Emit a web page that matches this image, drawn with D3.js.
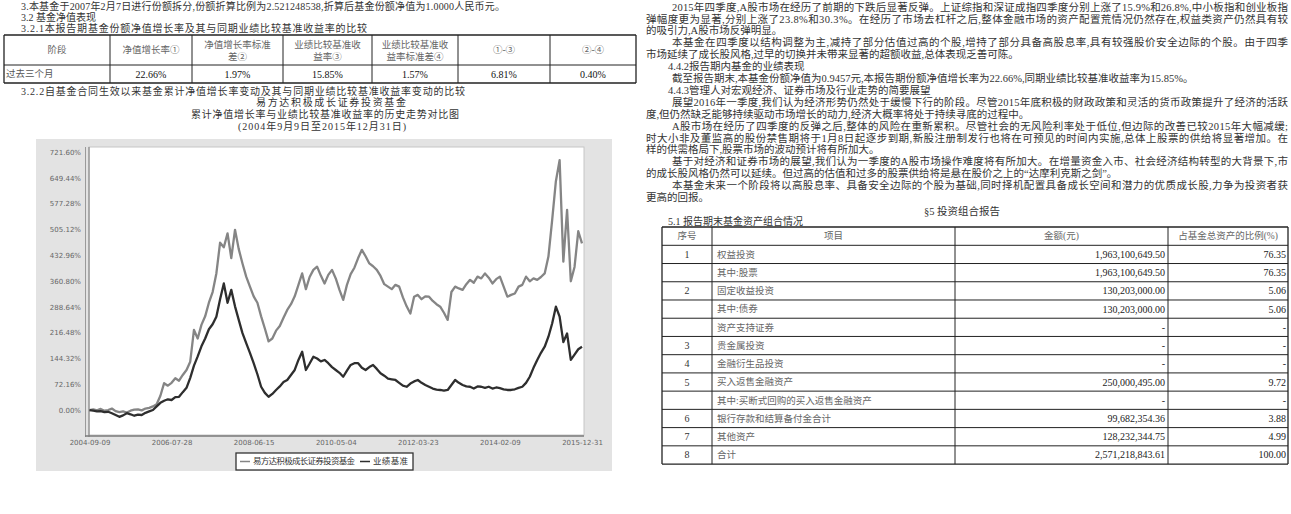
<!DOCTYPE html>
<html>
<head>
<meta charset="utf-8">
<script src="https://cdn.jsdelivr.net/npm/d3@7"></script>
<style>
  body { margin: 0; background: #fff; }
  svg text { font-family: "Liberation Serif", "Noto Sans CJK SC", serif; }
  .axis text { font-family: "DejaVu Sans", sans-serif; }
</style>
</head>
<body>
<div id="page"></div>
<script>
// ---- 图表数据 (monthly readings from the chart) ----
const yTickValues = [0, 72.16, 144.32, 216.48, 288.64, 360.80, 432.96, 505.12, 577.28, 649.44, 721.60];
const yTickLabels = ["0.00%", "72.16%", "144.32%", "216.48%", "288.64%", "360.80%", "432.96%", "505.12%", "577.28%", "649.44%", "721.60%"];
const xTickIndex = [0, 22, 44, 66, 88, 110, 132];
const xTickLabels = ["2004-09-09", "2006-07-28", "2008-06-15", "2010-05-04", "2012-03-23", "2014-02-09", "2015-12-31"];

// 易方达积极成长 累计净值增长率 (%)
const fundValues = [
  0, 2, -1, 3, -2, 0, 4, -3, -6, -4, -7, -2, 1, 2, -1, 4, 6, 10, 16, 40,
  75, 68, 76, 89, 82, 98, 112, 135, 224, 200, 238, 262, 300, 330, 382, 468, 455, 494, 425, 504,
  450, 410, 373, 345, 318, 300, 262, 228, 192, 200, 222, 235, 258, 280, 296, 318, 350, 382, 338, 372,
  392, 401, 376, 354, 378, 392, 368, 336, 308, 350, 380, 398, 425, 448, 430, 410, 402, 392, 375, 352,
  345, 338, 350, 345, 315, 290, 270, 317, 322, 310, 318, 317, 305, 296, 289, 272, 252, 330, 345, 340,
  336, 352, 364, 356, 373, 368, 382, 370, 354, 366, 373, 345, 317, 322, 326, 345, 350, 373, 360, 368,
  364, 372, 382, 429, 531, 640, 699, 415, 560, 360, 400, 500, 466
];
// 业绩基准 收益率 (%)
const benchValues = [
  0, -2, -4, -3, -6, -5, -9, -14, -19, -15, -9, -12, -16, -13, -14, -8, -4, 0, 10, 20,
  26, 30, 28, 36, 37, 50, 62, 90, 124, 150, 178, 200, 226, 240, 261, 310, 354, 300, 336, 290,
  252, 215, 187, 160, 131, 100, 65, 48, 37, 45, 56, 66, 78, 84, 98, 112, 140, 163, 112, 130,
  149, 144, 136, 140, 131, 120, 112, 104, 93, 110, 126, 131, 131, 118, 112, 120, 126, 115, 103, 96,
  88, 86, 84, 76, 68, 65, 74, 80, 84, 76, 70, 65, 60, 57, 56, 54, 56, 70, 84, 76,
  70, 66, 65, 60, 66, 65, 62, 65, 60, 63, 61, 58, 56, 56, 58, 62, 65, 76, 93, 118,
  140, 160, 177, 205, 242, 289, 261, 190, 214, 140, 155, 170, 177
];
const seriesNames = ["易方达积极成长证券投资基金", "业绩基准"];

// 3.2.1 表格
const perfHeader = [["阶段"], ["净值增长率①"], ["净值增长率标准", "差②"], ["业绩比较基准收", "益率③"], ["业绩比较基准收", "益率标准差④"], ["①-③"], ["②-④"]];
const perfRow = ["过去三个月", "22.66%", "1.97%", "15.85%", "1.57%", "6.81%", "0.40%"];

// 5.1 资产组合
const assetHeader = ["序号", "项目", "金额(元)", "占基金总资产的比例(%)"];
const assetNo = ["1", "", "2", "", "", "3", "4", "5", "", "6", "7", "8"];
const assetItems = ["权益投资", "其中:股票", "固定收益投资", "其中:债券", "资产支持证券", "贵金属投资", "金融衍生品投资", "买入返售金融资产", "其中:买断式回购的买入返售金融资产", "银行存款和结算备付金合计", "其他资产", "合计"];
const assetAmounts = ["1,963,100,649.50", "1,963,100,649.50", "130,203,000.00", "130,203,000.00", "-", "-", "-", "250,000,495.00", "-", "99,682,354.36", "128,232,344.75", "2,571,218,843.61"];
const assetRatios = ["76.35", "76.35", "5.06", "5.06", "-", "-", "-", "9.72", "-", "3.88", "4.99", "100.00"];

const svg = d3.select("#page").append("svg")
  .attr("width", 1291)
  .attr("height", 514);

svg.append("rect").attr("width", 1291).attr("height", 514).attr("fill", "#fff");

function addText(x, y, str, o = {}) {
  const t = svg.append("text")
    .attr("x", x)
    .attr("y", y)
    .attr("dy", "0.35em")
    .attr("font-size", o.size || 10)
    .attr("fill", o.fill || "#333")
    .attr("text-anchor", o.anchor || "start")
    .text(str);
  if (o.len) t.attr("textLength", o.len).attr("lengthAdjust", "spacing");
  return t;
}

function hline(x1, x2, y, w) {
  svg.append("line").attr("x1", x1).attr("x2", x2).attr("y1", y).attr("y2", y)
    .attr("stroke", "#222").attr("stroke-width", w || 1);
}
function vline(x, y1, y2, w) {
  svg.append("line").attr("x1", x).attr("x2", x).attr("y1", y1).attr("y2", y2)
    .attr("stroke", "#222").attr("stroke-width", w || 1);
}

// ---------- 左栏文字 ----------
addText(21, 6, "3.本基金于2007年2月7日进行份额拆分,份额折算比例为2.521248538,折算后基金份额净值为1.0000人民币元。", { len: 484 });
addText(21, 17, "3.2  基金净值表现");
addText(21, 28, "3.2.1本报告期基金份额净值增长率及其与同期业绩比较基准收益率的比较", { len: 346 });

// 3.2.1 表格
const pCols = [4, 110, 192, 283, 372, 458, 550, 636];
const pTop = 35, pMid = 65, pBot = 83;
hline(pCols[0], pCols[7], pTop, 1.3);
hline(pCols[0], pCols[7], pMid, 1);
hline(pCols[0], pCols[7], pBot, 1.3);
pCols.forEach((x, i) => vline(x, pTop, pBot, (i === 0 || i === 7) ? 1.3 : 1));
perfHeader.forEach((lines, i) => {
  const cx = (pCols[i] + pCols[i + 1]) / 2;
  if (lines.length === 1) {
    addText(cx, 50, lines[0], { anchor: "middle", size: 9.5, fill: "#666" });
  } else {
    addText(cx, 44.5, lines[0], { anchor: "middle", size: 9.5, fill: "#666" });
    addText(cx, 56.5, lines[1], { anchor: "middle", size: 9.5, fill: "#666" });
  }
});
perfRow.forEach((v, i) => {
  if (i === 0) addText(pCols[0] + 2, 74, v, { size: 9.5, fill: "#555" });
  else addText((pCols[i] + pCols[i + 1]) / 2, 74, v, { anchor: "middle", size: 10, fill: "#111" });
});

addText(21, 91, "3.2.2自基金合同生效以来基金累计净值增长率变动及其与同期业绩比较基准收益率变动的比较", { len: 444 });
addText(331, 102, "易方达积极成长证券投资基金", { anchor: "middle", len: 150 });
addText(325, 114, "累计净值增长率与业绩比较基准收益率的历史走势对比图", { anchor: "middle", len: 268 });
addText(322, 126, "(2004年9月9日至2015年12月31日)", { anchor: "middle", len: 168 });

// ---------- 走势图 ----------
const chart = svg.append("g");
chart.append("rect")
  .attr("x", 36).attr("y", 139).attr("width", 576).attr("height", 332)
  .attr("fill", "#e3e3e3");

const plotL = 89, plotR = 584, plotT = 147, plotB = 435;

chart.append("rect")
  .attr("x", plotL).attr("y", plotT).attr("width", plotR - plotL).attr("height", plotB - plotT)
  .attr("fill", "#fff").attr("stroke", "#c6c6c6").attr("stroke-width", 1);

const x = d3.scaleLinear()
  .domain([0, fundValues.length - 1])
  .range([plotL + 0.5, plotR - 2]);

const y = d3.scaleLinear()
  .domain([-67.1, 735.6])
  .range([plotB - 1, plotT]);

// 左侧双线 + 底轴
chart.append("line").attr("x1", 85.5).attr("x2", 85.5).attr("y1", plotT).attr("y2", plotB + 2)
  .attr("stroke", "#9a9a9a").attr("stroke-width", 1);
chart.append("line").attr("x1", plotL).attr("x2", plotL).attr("y1", plotT).attr("y2", plotB + 2)
  .attr("stroke", "#8a8a8a").attr("stroke-width", 1.2);
chart.append("line").attr("x1", 85).attr("x2", plotR).attr("y1", plotB + 1).attr("y2", plotB + 1)
  .attr("stroke", "#7a7a7a").attr("stroke-width", 1.6);

const yAxis = chart.append("g")
  .attr("class", "axis")
  .attr("transform", "translate(83,0)")
  .call(d3.axisLeft(y)
    .tickValues(yTickValues)
    .tickFormat((d, i) => yTickLabels[i])
    .tickSize(0)
    .tickPadding(2));
yAxis.select(".domain").remove();
yAxis.selectAll("text").attr("font-size", 7).attr("fill", "#666");

const xAxis = chart.append("g")
  .attr("class", "axis")
  .attr("transform", "translate(0," + (plotB + 3) + ")")
  .call(d3.axisBottom(x)
    .tickValues(xTickIndex)
    .tickFormat((d, i) => xTickLabels[i])
    .tickSize(0)
    .tickPadding(2));
xAxis.select(".domain").remove();
xAxis.selectAll("text").attr("font-size", 7).attr("fill", "#666");

const line = d3.line()
  .x((d, i) => x(i))
  .y(d => y(d));

chart.append("path")
  .datum(fundValues)
  .attr("fill", "none")
  .attr("stroke", "#858585")
  .attr("stroke-width", 2.3)
  .attr("stroke-linejoin", "round")
  .attr("d", line);

chart.append("path")
  .datum(benchValues)
  .attr("fill", "none")
  .attr("stroke", "#2e2e2e")
  .attr("stroke-width", 2.3)
  .attr("stroke-linejoin", "round")
  .attr("d", line);

// 图例
chart.append("rect")
  .attr("x", 236).attr("y", 453).attr("width", 177).attr("height", 17)
  .attr("fill", "#fff").attr("stroke", "#333").attr("stroke-width", 1.3);
chart.append("line").attr("x1", 240).attr("x2", 250).attr("y1", 461.5).attr("y2", 461.5)
  .attr("stroke", "#858585").attr("stroke-width", 1.5);
addText(253, 461.5, seriesNames[0], { size: 8.5, fill: "#333", len: 102 });
chart.append("line").attr("x1", 360).attr("x2", 370).attr("y1", 461.5).attr("y2", 461.5)
  .attr("stroke", "#2e2e2e").attr("stroke-width", 1.5);
addText(373, 461.5, seriesNames[1], { size: 8.5, fill: "#333", len: 35 });

// ---------- 右栏文字 (full lines justified to the column edge) ----------
const colRight = 1288;
const rightLines = [
  { t: "2015年四季度,A股市场在经历了前期的下跌后显著反弹。上证综指和深证成指四季度分别上涨了15.9%和26.8%,中小板指和创业板指", x: 672, full: true },
  { t: "弹幅度更为显著,分别上涨了23.8%和30.3%。在经历了市场去杠杆之后,整体金融市场的资产配置荒情况仍然存在,权益类资产仍然具有较", x: 646, full: true },
  { t: "的吸引力,A股市场反弹明显。", x: 646 },
  { t: "本基金在四季度以结构调整为主,减持了部分估值过高的个股,增持了部分具备高股息率,具有较强股价安全边际的个股。由于四季", x: 672, full: true },
  { t: "市场延续了成长股风格,过早的切换并未带来显著的超额收益,总体表现乏善可陈。", x: 646 },
  { t: "4.4.2报告期内基金的业绩表现", x: 668 },
  { t: "截至报告期末,本基金份额净值为0.9457元,本报告期份额净值增长率为22.66%,同期业绩比较基准收益率为15.85%。", x: 672 },
  { t: "4.4.3管理人对宏观经济、证券市场及行业走势的简要展望", x: 668 },
  { t: "展望2016年一季度,我们认为经济形势仍然处于缓慢下行的阶段。尽管2015年底积极的财政政策和灵活的货币政策提升了经济的活跃", x: 672, full: true },
  { t: "度,但仍然缺乏能够持续驱动市场增长的动力,经济大概率将处于持续寻底的过程中。", x: 646 },
  { t: "A股市场在经历了四季度的反弹之后,整体的风险在重新累积。尽管社会的无风险利率处于低位,但边际的改善已较2015年大幅减缓;", x: 672, full: true },
  { t: "时大小非及董监高的股份禁售期将于1月8日起逐步到期,新股注册制发行也将在可预见的时间内实施,总体上股票的供给将显著增加。在", x: 646, full: true },
  { t: "样的供需格局下,股票市场的波动预计将有所加大。", x: 646 },
  { t: "基于对经济和证券市场的展望,我们认为一季度的A股市场操作难度将有所加大。在增量资金入市、社会经济结构转型的大背景下,市", x: 672, full: true },
  { t: "的成长股风格仍然可以延续。但过高的估值和过多的股票供给将是悬在股价之上的“达摩利克斯之剑”。", x: 646 },
  { t: "本基金未来一个阶段将以高股息率、具备安全边际的个股为基础,同时择机配置具备成长空间和潜力的优质成长股,力争为投资者获", x: 672, full: true },
  { t: "更高的回报。", x: 646 }
];
rightLines.forEach((d, k) => {
  addText(d.x, 7 + k * 11.9, d.t, { size: 10.5, len: d.full ? colRight - d.x : null });
});

addText(962, 211, "§5  投资组合报告", { anchor: "middle", size: 10.5 });
addText(668, 221, "5.1 报告期末基金资产组合情况", { size: 10 });

// 5.1 表格
const aCols = [662, 712, 955, 1168, 1288];
const aTop = 227, aHead = 18.3, aRow = 18.23;
const aBot = aTop + aHead + aRow * assetItems.length;
hline(aCols[0], aCols[4], aTop, 1.3);
hline(aCols[0], aCols[4], aBot, 1.3);
for (let r = 0; r < assetItems.length; r++) {
  hline(aCols[0], aCols[4], aTop + aHead + r * aRow, 1);
}
aCols.forEach((xx, i) => vline(xx, aTop, aBot, (i === 0 || i === 4) ? 1.3 : 1));
assetHeader.forEach((h, i) => {
  addText((aCols[i] + aCols[i + 1]) / 2, aTop + aHead / 2, h, { anchor: "middle", size: 9.5, fill: "#666" });
});
assetItems.forEach((item, r) => {
  const cy = aTop + aHead + r * aRow + aRow / 2;
  if (assetNo[r]) addText((aCols[0] + aCols[1]) / 2, cy, assetNo[r], { anchor: "middle", size: 10, fill: "#333" });
  addText(aCols[1] + 5, cy, item, { size: 9.5, fill: "#666" });
  addText(aCols[3] - 3, cy, assetAmounts[r], { anchor: "end", size: 10, fill: "#222" });
  addText(aCols[4] - 2, cy, assetRatios[r], { anchor: "end", size: 10, fill: "#222" });
});
</script>
</body>
</html>
